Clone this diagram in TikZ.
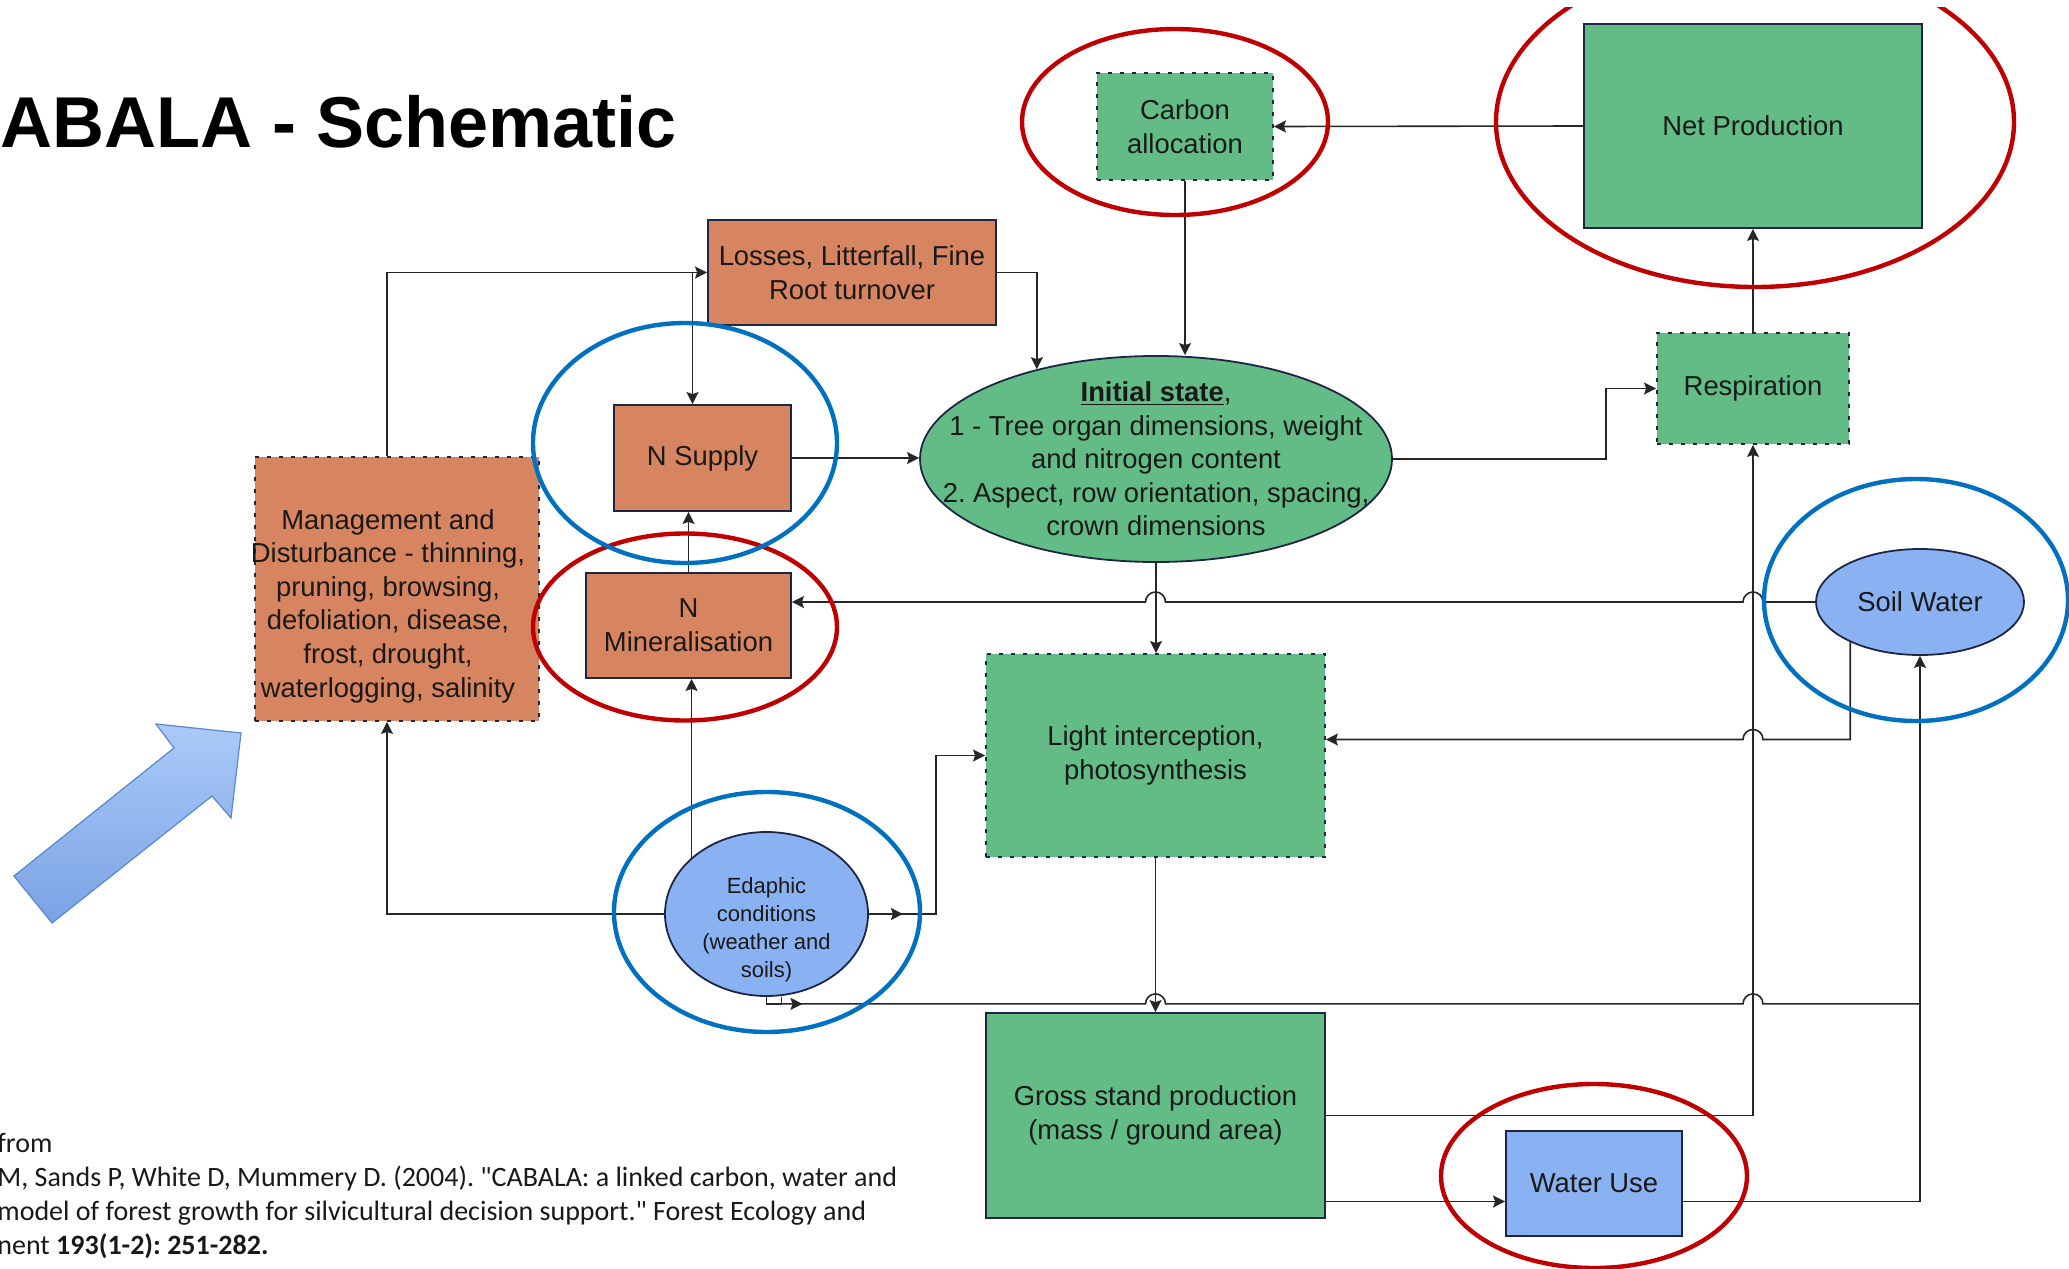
\documentclass[tikz,border=0pt]{standalone}
\usepackage{fontspec}
\setmainfont{Liberation Sans}
\newfontfamily\citefont{Carlito}
\usetikzlibrary{arrows.meta,positioning,calc,shapes.geometric,decorations.markings}
\frenchspacing

\definecolor{orangebox}{RGB}{214,133,96}
\definecolor{greenbox}{RGB}{99,188,134}
\definecolor{bluebox}{RGB}{138,177,242}
\definecolor{edge}{RGB}{30,38,70}
\definecolor{wire}{RGB}{38,38,38}
\definecolor{ringred}{RGB}{192,0,0}
\definecolor{ringblue}{RGB}{0,112,192}
\definecolor{arrowlight}{RGB}{170,202,248}
\definecolor{arrowdark}{RGB}{122,162,228}
\definecolor{arrowedge}{RGB}{90,135,205}

\begin{document}
\begin{tikzpicture}[x=0.5pt,y=-0.5pt,
  box/.style={rectangle, draw=edge, line width=0.9pt, inner sep=0pt, align=center,
    font=\fontsize{13.7}{16.8}\selectfont, text=black!90},
  dotbox/.style={box, dash pattern=on 2pt off 4pt},
  blob/.style={ellipse, draw=edge, line width=0.9pt, inner sep=-25pt, align=center,
    font=\fontsize{13.7}{16.8}\selectfont, text=black!90},
  boxtext/.style={inner sep=0pt, align=center, font=\fontsize{13.7}{16.8}\selectfont, text=black!90},
  arrow/.style={-{Stealth[length=6pt,width=6pt,inset=1pt]}, draw=wire, line width=0.8pt},
  wireline/.style={draw=wire, line width=0.8pt},
  midarrow/.style={postaction={decorate}, decoration={markings,
    mark=at position #1 with {\arrow{Stealth[length=6pt,width=6pt,inset=1pt]}}}},
  redring/.style={draw=ringred, line width=2.2pt},
  bluering/.style={draw=ringblue, line width=2.2pt},
]
\useasboundingbox (0,0) rectangle (2069,1269);

% title and reference
\node[anchor=base west, inner sep=0pt, font=\fontsize{36}{40}\selectfont\bfseries] (title) at (0,147) {ABALA - Schematic};
\node[anchor=base west, inner sep=0pt, align=left, text=black!90,
  font=\citefont\fontsize{14}{17}\selectfont] (cite) at (-3,1254)
  {from\\M, Sands P, White D, Mummery D. (2004). "CABALA: a linked carbon, water and\\model of forest growth for silvicultural decision support." Forest Ecology and\\nent \textbf{193(1-2): 251-282.}};

% block arrow
\draw[arrowedge, line width=0.6pt, top color=arrowlight, bottom color=arrowdark]
  (14,876) -- (52,923) -- (212,796) -- (231,818) -- (241,733) -- (156,724) -- (174,748) -- cycle;

% boxes
\node[box, fill=orangebox, minimum width=144pt, minimum height=52.5pt] (losses) at (852,272.5) {Losses, Litterfall, Fine\\Root turnover};
\node[box, fill=orangebox, minimum width=88.5pt, minimum height=53pt] (nsupply) at (702.5,458) {N Supply};
\node[box, fill=orangebox, minimum width=102.5pt, minimum height=52.5pt] (nmin) at (688.5,625.5) {N\\Mineralisation};
\node[dotbox, fill=orangebox, minimum width=142pt, minimum height=132pt] (mgmt) at (397,589) {};
\node[boxtext] (mgmttext) at ([xshift=-4.5pt,yshift=-8.5pt]mgmt.center) {Management and\\Disturbance - thinning,\\pruning, browsing,\\defoliation, disease,\\frost, drought,\\waterlogging, salinity};
\node[dotbox, fill=greenbox, minimum width=88pt, minimum height=53.5pt] (carbon) at (1185,126.5) {Carbon\\allocation};
\node[box, fill=greenbox, minimum width=169pt, minimum height=102pt] (netprod) at (1753,126) {Net Production};
\node[blob, fill=greenbox, minimum width=236pt, minimum height=103pt] (init) at (1156,459) {\underline{\textbf{Initial state}},\\1 - Tree organ dimensions, weight\\and nitrogen content\\2. Aspect, row orientation, spacing,\\crown dimensions};
\node[dotbox, fill=greenbox, minimum width=96pt, minimum height=55.5pt] (resp) at (1753,388.5) {Respiration};
\node[blob, fill=bluebox, minimum width=104pt, minimum height=53pt] (soilwater) at (1920,602) {Soil Water};
\node[dotbox, fill=greenbox, minimum width=169.5pt, minimum height=101.5pt] (light) at (1155.5,755.5) {Light interception,\\photosynthesis};
\node[box, fill=greenbox, minimum width=169.5pt, minimum height=102.5pt] (gross) at (1155.5,1115.5) {Gross stand production\\(mass / ground area)};
\node[box, fill=bluebox, minimum width=88pt, minimum height=52.5pt] (wateruse) at (1594,1183.5) {Water Use};
\node[blob, fill=bluebox, minimum width=101.5pt, minimum height=82pt] (edaphic) at (766.5,914) {};
\node[boxtext, font=\fontsize{11}{14}\selectfont] (edaphictext) at ([yshift=-8pt]edaphic.center) {Edaphic\\conditions\\(weather and\\soils)};

% connectors
\draw[arrow] ($(mgmt.north)+(-10,0)$) |- (losses.west);
\draw[arrow] ($(nsupply.north |- losses.west)+(-10,0)$) -- ($(nsupply.north)+(-10,0)$);
\draw[arrow] (losses.east) -| (init.143);
\draw[arrow] (carbon.south) -- (carbon.south |- init.north);
\draw[arrow] (netprod.west) -- (carbon.east);
\draw[arrow] (nsupply.east) -- (nsupply.east -| init.west);
\draw[arrow] (init.east) -| ($(resp.west)+(-50,0)$) -- (resp.west);
\draw[arrow] (resp.north) -- (netprod.south);
\draw[arrow] (gross.east) -| (resp.south);
\draw[arrow] (init.south) -- (init.south |- light.north);
\draw[arrow] (light.south) -- (gross.north);
\draw[arrow] (nmin.north) -- (nmin.north |- nsupply.south);
\draw[arrow] (edaphic.143) -- (edaphic.143 |- nmin.south);
\draw[arrow] (edaphic.west) -| ($(mgmt.south)+(-10,0)$);
\draw[arrow, midarrow=17pt] (edaphic.east) -| ($(light.west)+(-49,0)$) -- (light.west);

% soil water feedbacks, hopping over the verticals
\draw[arrow] (soilwater.west) -- ($(soilwater.west -| resp.south)+(10,0)$)
  arc[start angle=0, end angle=180, radius=5pt]
  -- ($(soilwater.west -| light.north)+(10,0)$)
  arc[start angle=0, end angle=180, radius=5pt]
  -- (soilwater.west -| nmin.east);
\draw[arrow] (soilwater.210) |- ($(resp.south |- light.east)+(10,-16)$)
  arc[start angle=0, end angle=180, radius=5pt]
  -- ($(light.east)+(0,-16)$);

% water use
\draw[arrow] ($(wateruse.west -| gross.east)+(0,18)$) -- ($(wateruse.west)+(0,18)$);
\draw[arrow] ($(wateruse.east)+(0,18)$) -| (soilwater.south);

% edaphic bus line
\coordinate (bus) at ($(edaphic.south)+(0,7)$);
\draw[wireline] (edaphic.south) -- (bus) -- ++(15,0) -- ++(0,-7);
\draw[wireline, midarrow=18pt] (bus) -- ($(bus -| light.south)+(-10,0)$)
  arc[start angle=180, end angle=0, radius=5pt]
  -- ($(bus -| resp.south)+(-10,0)$)
  arc[start angle=180, end angle=0, radius=5pt]
  -- (bus -| soilwater.south);

% highlight rings
\begin{scope}
  \clip (0,7) rectangle (2069,1269);
  \draw[redring] (1755,122) ellipse [x radius=129.5pt, y radius=82.5pt];
\end{scope}
\draw[redring] (1175,122) ellipse [x radius=76.5pt, y radius=46.5pt];
\draw[redring] (685,627) ellipse [x radius=76pt, y radius=46.75pt];
\draw[redring] (1594,1176) ellipse [x radius=76.5pt, y radius=46pt];
\draw[bluering] (685,443) ellipse [x radius=76pt, y radius=60pt];
\draw[bluering] (1916,600) ellipse [x radius=76pt, y radius=60.5pt];
\draw[bluering] (767,912) ellipse [x radius=76.5pt, y radius=60pt];

\end{tikzpicture}
\end{document}
